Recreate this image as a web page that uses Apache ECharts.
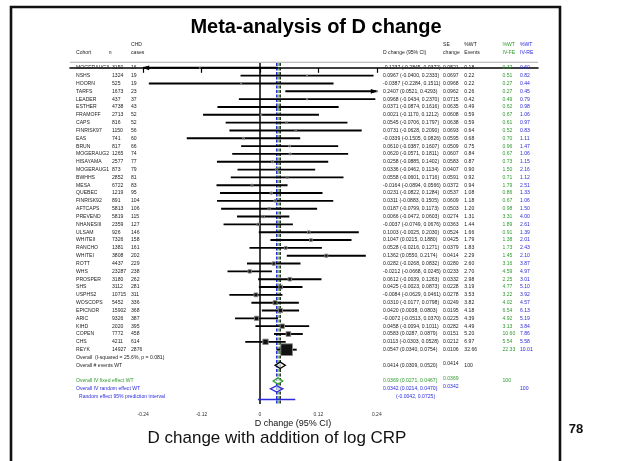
<!DOCTYPE html>
<html><head><meta charset="utf-8">
<script src="https://cdn.jsdelivr.net/npm/echarts@6/dist/echarts.min.js"></script>
<style>html,body{margin:0;padding:0;background:#fff}#c{width:621px;height:461px}</style>
</head><body><div id="c"></div>
<script>
const cohorts = ['MOGERAUG3','NSHS','HOORN','TARFS','LEADER','ESTHER','FRAMOFF','CAPS','FINRISK97','EAS','BRUN','MOGERAUG2','HISAYAMA','MOGERAUG1','BWHHS','MESA','QUEBEC','FINRISK92','AFTCAPS','PREVEND','NHANESIII','ULSAM','WHITEII','RANCHO','WHITEI','ROTT','WHS','PROSPER','SHS','USPHS2','WOSCOPS','EPICNOR','ARIC','KIHD','COPEN','CHS','REYK'];
const nSubjects = [3150,1324,525,1673,437,4738,2713,816,1150,741,817,1265,2577,873,2852,6722,1219,891,5813,5819,2359,926,7326,1381,3808,4437,23287,3180,3112,10715,5452,15902,9326,2020,7772,4211,14927];
const chdCases = [16,19,19,23,37,43,52,52,56,60,66,74,77,79,81,83,95,104,106,115,127,146,158,161,202,229,238,262,281,311,336,368,387,395,458,614,2876];
const dChange = [-0.1237,0.0967,-0.0387,0.2407,0.0968,0.0371,0.0021,0.0545,0.0731,-0.0339,0.0610,0.0620,0.0258,0.0336,0.0558,-0.0164,0.0231,0.0311,0.0187,0.0066,-0.0037,0.1003,0.1047,0.0528,0.1362,0.0282,-0.0212,0.0612,0.0425,-0.0084,0.0310,0.0420,-0.0072,0.0458,0.0583,0.0113,0.0547];
const ciLow = [-0.2845,-0.0400,-0.2284,0.0521,-0.0434,-0.0874,-0.1170,-0.0706,-0.0628,-0.1505,-0.0387,-0.0571,-0.0885,-0.0462,-0.0601,-0.0894,-0.0822,-0.0883,-0.0799,-0.0472,-0.0749,-0.0025,0.0215,-0.0216,0.0550,-0.0268,-0.0668,-0.0039,-0.0023,-0.0629,-0.0177,0.0038,-0.0513,-0.0094,0.0287,-0.0303,0.0340];
const ciHigh = [0.0372,0.2333,0.1511,0.4293,0.2370,0.1616,0.1212,0.1797,0.2090,0.0826,0.1607,0.1811,0.1402,0.1134,0.1716,0.0566,0.1284,0.1505,0.1173,0.0603,0.0676,0.2030,0.1880,0.1271,0.2174,0.0832,0.0245,0.1263,0.0873,0.0461,0.0798,0.0803,0.0370,0.1011,0.0879,0.0528,0.0754];
const seChange = [0.0821,0.0697,0.0968,0.0962,0.0715,0.0635,0.0608,0.0638,0.0693,0.0595,0.0509,0.0607,0.0583,0.0407,0.0591,0.0372,0.0537,0.0609,0.0503,0.0274,0.0363,0.0524,0.0425,0.0379,0.0414,0.0280,0.0233,0.0332,0.0228,0.0278,0.0249,0.0195,0.0225,0.0282,0.0151,0.0212,0.0106];
const wtEvents = [0.18,0.22,0.22,0.26,0.42,0.49,0.59,0.59,0.64,0.68,0.75,0.84,0.87,0.90,0.92,0.94,1.08,1.18,1.20,1.31,1.44,1.66,1.79,1.83,2.29,2.60,2.70,2.98,3.19,3.53,3.82,4.18,4.39,4.49,5.20,6.97,32.66];
const wtFE = [0.37,0.51,0.27,0.27,0.49,0.62,0.67,0.61,0.52,0.70,0.96,0.67,0.73,1.50,0.71,1.79,0.86,0.67,0.98,3.31,1.89,0.91,1.38,1.73,1.45,3.16,4.59,2.25,4.77,3.22,4.02,6.54,4.92,3.13,10.60,5.54,22.33];
const wtRE = [0.60,0.82,0.44,0.45,0.79,0.98,1.06,0.97,0.83,1.11,1.47,1.06,1.15,2.16,1.12,2.51,1.33,1.06,1.50,4.00,2.61,1.39,2.01,2.43,2.10,3.87,4.97,3.01,5.10,3.92,4.57,6.13,5.19,3.84,7.86,5.58,10.01];

const overallLabels = ['Overall # events WT','Overall IV fixed effect WT','Overall IV random effect WT'];
const overallEst = [0.0414,0.0369,0.0342];
const overallLow = [0.0309,0.0271,0.0214];
const overallHigh = [0.0520,0.0467,0.0470];
const overallWt = [100,100,100];
const heterogeneityText = 'Overall  (I-squared = 25.6%, p = 0.081)';
const predLabel = 'Random effect 95% prediction interval';
const predInterval = [-0.0042,0.0725];
const xTicks = [-0.24,-0.12,0,0.12,0.24];

const FONT = '"Liberation Sans", Arial, sans-serif';
const GREEN = '#2f9a2f', BLUE = '#2b2bdd', TXT = '#222';
const nStudy = cohorts.length;
const ROW_HET = nStudy, ROW_OVR = [nStudy+1, nStudy+3, nStudy+4], ROW_PI = nStudy+5;
const Y_MIN = -0.613, Y_MAX = 42.94;
const CLIP_MIN = xTicks[0], CLIP_MAX = xTicks[xTicks.length-1];
const COL = {name:76, n:112, cases:131, ci:383, se:443, wt:464.3, fe:502.5, re:520};
const FS = 5.1;

const fmtCI = (e,l,h) => e.toFixed(4)+' ('+l.toFixed(4)+', '+h.toFixed(4)+')';

const texts = [];
for (let i=0;i<nStudy;i++){
  texts.push({row:i,x:COL.name,text:cohorts[i]});
  texts.push({row:i,x:COL.n,text:String(nSubjects[i])});
  texts.push({row:i,x:COL.cases,text:String(chdCases[i])});
  texts.push({row:i,x:COL.ci,text:fmtCI(dChange[i],ciLow[i],ciHigh[i])});
  texts.push({row:i,x:COL.se,text:seChange[i].toFixed(4)});
  texts.push({row:i,x:COL.wt,text:wtEvents[i].toFixed(2)});
  texts.push({row:i,x:COL.fe,text:wtFE[i].toFixed(2),color:GREEN});
  texts.push({row:i,x:COL.re,text:wtRE[i].toFixed(2),color:BLUE});
}
texts.push({row:ROW_HET,x:COL.name,text:heterogeneityText});
const ovColors = [TXT,GREEN,BLUE];
const ovWtCol = [COL.wt,COL.fe,COL.re];
for (let k=0;k<3;k++){
  const r = ROW_OVR[k];
  texts.push({row:r,x:COL.name,text:overallLabels[k],color:ovColors[k]});
  texts.push({row:r,x:COL.ci,text:fmtCI(overallEst[k],overallLow[k],overallHigh[k]),color:ovColors[k]});
  texts.push({row:r,x:COL.se,text:overallEst[k].toFixed(4),color:ovColors[k],dy:-2});
  texts.push({row:r,x:ovWtCol[k],text:String(overallWt[k]),color:ovColors[k]});
}
texts.push({row:ROW_PI,x:COL.name+3,text:predLabel,color:BLUE});
texts.push({row:ROW_PI,x:COL.ci+13,text:'('+predInterval[0].toFixed(4)+', '+predInterval[1].toFixed(4)+')',color:BLUE});

const vline = (x,color,type,w) => ({type:'line',data:[[x,Y_MIN],[x,Y_MAX]],symbol:'none',silent:true,
  lineStyle:{color,width:w,type},z:3});

const ciSeries = dChange.map((d,i)=>({type:'line',symbol:'none',silent:true,z:4,clip:false,
  data:[[Math.max(ciLow[i],CLIP_MIN),i],[Math.min(ciHigh[i],CLIP_MAX),i]],
  lineStyle:{color:'#000',width:1.9,cap:'butt'}}));

const arrowRows = dChange.map((d,i)=>i).filter(i=>ciLow[i]<CLIP_MIN||ciHigh[i]>CLIP_MAX);

const chart = echarts.init(document.getElementById('c'));
chart.setOption({
  animation:false,
  backgroundColor:'#fff',
  grid:{left:70,right:83,top:63,bottom:57},
  xAxis:{type:'value',min:-0.39041,max:0.57123,
    axisLine:{show:true,lineStyle:{color:'#000',width:1.6}},
    axisTick:{show:true,customValues:xTicks,length:5,lineStyle:{color:'#000',width:1.2}},
    axisLabel:{show:true,customValues:xTicks,fontSize:5,color:'#333',fontFamily:FONT,margin:8.5,
      formatter:v=>v===0?'0':String(+v.toFixed(2))},
    splitLine:{show:false}},
  yAxis:{type:'value',inverse:true,min:Y_MIN,max:Y_MAX,show:false},
  graphic:[
    {type:'rect',shape:{x:11,y:7,width:549,height:470},style:{fill:'none',stroke:'#111',lineWidth:2.6},silent:true},
    {type:'text',x:316,y:27,style:{text:'Meta-analysis of D change',font:'bold 20px '+FONT,fill:'#000',align:'center',verticalAlign:'middle'}},
    {type:'rect',shape:{x:70,y:61.8,width:468,height:1},style:{fill:'#aaa'}},
    {type:'text',x:COL.name,y:52.7,style:{text:'Cohort',font:FS+'px '+FONT,fill:TXT,verticalAlign:'middle'}},
    {type:'text',x:108.7,y:52.7,style:{text:'n',font:FS+'px '+FONT,fill:TXT,verticalAlign:'middle'}},
    {type:'text',x:COL.cases,y:44.3,style:{text:'CHD',font:FS+'px '+FONT,fill:TXT,verticalAlign:'middle'}},
    {type:'text',x:COL.cases,y:52.7,style:{text:'cases',font:FS+'px '+FONT,fill:TXT,verticalAlign:'middle'}},
    {type:'text',x:COL.ci,y:52.7,style:{text:'D change (95% CI)',font:FS+'px '+FONT,fill:TXT,verticalAlign:'middle'}},
    {type:'text',x:COL.se,y:44.3,style:{text:'SE',font:FS+'px '+FONT,fill:TXT,verticalAlign:'middle'}},
    {type:'text',x:COL.se,y:52.7,style:{text:'change',font:FS+'px '+FONT,fill:TXT,verticalAlign:'middle'}},
    {type:'text',x:COL.wt,y:44.3,style:{text:'%WT',font:FS+'px '+FONT,fill:TXT,verticalAlign:'middle'}},
    {type:'text',x:COL.wt,y:52.7,style:{text:'Events',font:FS+'px '+FONT,fill:TXT,verticalAlign:'middle'}},
    {type:'text',x:COL.fe,y:44.3,style:{text:'%WT',font:FS+'px '+FONT,fill:GREEN,verticalAlign:'middle'}},
    {type:'text',x:COL.fe,y:52.7,style:{text:'IV-FE',font:FS+'px '+FONT,fill:GREEN,verticalAlign:'middle'}},
    {type:'text',x:COL.re,y:44.3,style:{text:'%WT',font:FS+'px '+FONT,fill:BLUE,verticalAlign:'middle'}},
    {type:'text',x:COL.re,y:52.7,style:{text:'IV-RE',font:FS+'px '+FONT,fill:BLUE,verticalAlign:'middle'}},
    {type:'text',x:293,y:423.5,style:{text:'D change (95% CI)',font:'9px '+FONT,fill:'#111',align:'center',verticalAlign:'middle'}},
    {type:'text',x:277,y:438,style:{text:'D change with addition of log CRP',font:'17px '+FONT,fill:'#111',align:'center',verticalAlign:'middle'}},
    {type:'text',x:576,y:429,style:{text:'78',font:'bold 13px '+FONT,fill:'#111',align:'center',verticalAlign:'middle'}}
  ],
  series:[
    vline(0,'#000','solid',1.5),
    vline(overallEst[2],BLUE,[3,1.5],1.3),
    vline(overallEst[1],GREEN,[3,1.5],1.3),
    vline(overallEst[0],'#000',[3,1.5],1.3),
    ...ciSeries,
    {type:'custom',coordinateSystem:'cartesian2d',clip:false,silent:true,z:5,
      data:arrowRows.map(i=>[ciLow[i]<CLIP_MIN?CLIP_MIN:CLIP_MAX,i]),
      renderItem:(params,api)=>{
        const v = api.value(0), r = api.value(1);
        const p = api.coord([v,r]);
        const dir = v<0?1:-1;
        return {type:'polygon',shape:{points:[[p[0]-dir,p[1]],[p[0]+dir*6,p[1]-2.4],[p[0]+dir*6,p[1]+2.4]]},style:{fill:'#000'}};
      }},
    {type:'custom',coordinateSystem:'cartesian2d',clip:false,silent:true,z:6,
      data:dChange.map((d,i)=>[d,i,wtEvents[i]]),
      renderItem:(params,api)=>{
        const p = api.coord([api.value(0),api.value(1)]);
        const s = 2.05*Math.sqrt(api.value(2));
        return {type:'rect',shape:{x:p[0]-s/2,y:p[1]-s/2,width:s,height:s},style:{fill:'#111',stroke:'#8a8a8a',lineWidth:0.9}};
      }},
    {type:'custom',coordinateSystem:'cartesian2d',clip:false,silent:true,z:5,
      data:overallEst.map((e,k)=>[e,ROW_OVR[k],overallLow[k],overallHigh[k]]),
      renderItem:(params,api)=>{
        const k = params.dataIndex, r = api.value(1);
        const a = api.coord([api.value(2),r]), b = api.coord([api.value(3),r]), c = api.coord([api.value(0),r]);
        return {type:'polygon',shape:{points:[[a[0],a[1]],[c[0],c[1]-3.2],[b[0],b[1]],[c[0],c[1]+3.2]]},
          style:{fill:'rgba(255,255,255,0.6)',stroke:ovColors[k]==TXT?'#000':ovColors[k],lineWidth:1.3}};
      }},
    {type:'line',data:[[predInterval[0],ROW_PI+0.35],[predInterval[1],ROW_PI+0.35]],symbol:'none',silent:true,
      lineStyle:{color:BLUE,width:1.5},z:5},
    {type:'custom',coordinateSystem:'cartesian2d',clip:false,silent:true,z:7,
      data:texts.map((t,i)=>[0,t.row]),
      renderItem:(params,api)=>{
        const t = texts[params.dataIndex];
        const y = api.coord([0,t.row])[1] + (t.dy||0);
        return {type:'text',x:t.x,y:y,style:{text:t.text,font:FS+'px '+FONT,fill:t.color||TXT,align:'left',verticalAlign:'middle'}};
      }}
  ]
});
</script></body></html>
